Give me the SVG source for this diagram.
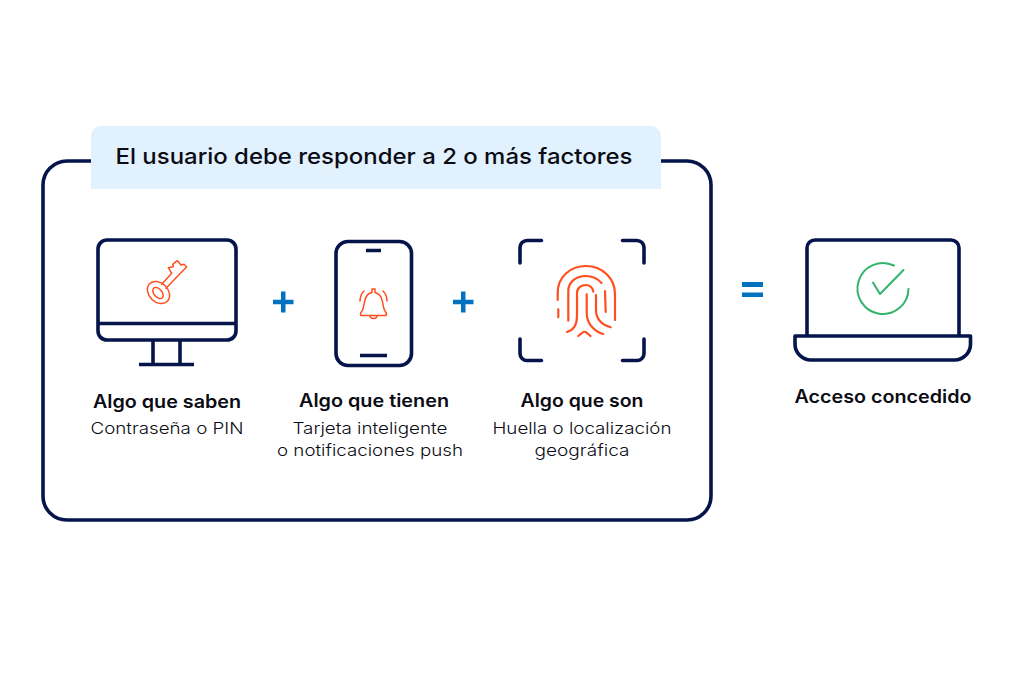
<svg xmlns="http://www.w3.org/2000/svg" width="1024" height="681" viewBox="0 0 1024 681">
<style>
text{font-family:"Inter","Noto Sans",sans-serif;fill:#0b0b14;text-anchor:middle}
.t{font-size:22px;font-weight:500}
.h{font-size:18px;font-weight:600}
.s{font-size:16.5px;font-weight:300}
.n{fill:none;stroke:#05144a;stroke-width:3.6;stroke-linejoin:round}
.o{fill:none;stroke:#ff4f1f;stroke-width:1.5;stroke-linecap:round;stroke-linejoin:round}
.f{fill:none;stroke:#ff4f1f;stroke-width:2.2;stroke-linecap:round;stroke-linejoin:round}
.b{fill:#0072bf}
</style>
<rect width="1024" height="681" fill="#fff"/>
<g id="frame">
<rect class="n" x="43" y="161" width="668" height="359" rx="24"/>
<path d="M91 189V136a10 10 0 0 1 10-10H651a10 10 0 0 1 10 10V189Z" fill="#e1f2fe"/>
<text class="t" x="374" y="164" textLength="517" lengthAdjust="spacingAndGlyphs">El usuario debe responder a 2 o más factores</text>
</g>
<g id="saben">
<rect class="n" x="98" y="240" width="138" height="100" rx="9"/>
<path class="n" d="M98 323.500H236M153 341V364.500M180 341V364.500M139 364.500H194"/>
<ellipse class="o" cx="158.500" cy="292.500" rx="12.500" ry="9.500" transform="rotate(45 158.500 292.500)"/>
<ellipse class="o" cx="158" cy="293" rx="6.500" ry="4" transform="rotate(50 158 293)"/>
<path class="o" d="M161.700 284.300L171.700 273.300L168.300 267.700L173.300 266.700L172.700 264.300L177.300 260.700L181 265L184 264.300L186.700 266.700L166 288.300"/>
<text class="h" x="167" y="408" textLength="148" lengthAdjust="spacingAndGlyphs">Algo que saben</text>
<text class="s" x="167" y="434" textLength="153" lengthAdjust="spacingAndGlyphs">Contraseña o PIN</text>
</g>
<g id="tienen">
<rect class="n" x="336" y="241.500" width="75.500" height="124" rx="12"/>
<path class="n" d="M366 250.500H381M360 355.500H387"/>
<path class="o" d="M361 315.500C360 314 361 312 362 311C364 308 364 303 365 300C366 296 369 293 372 292.500V289H375V292.500C379 293.500 381 296 382 300C383 303 383 308 385 311C386 312 387 314 386 315.500Z"/>
<path class="o" d="M370 315.500a3.500 3 0 0 0 7 0M360 301C360 297 362 293 364 291M387 301C387 297 385 293 383 291"/>
<text class="h" x="374" y="407" textLength="150" lengthAdjust="spacingAndGlyphs">Algo que tienen</text>
<text class="s" x="370" y="434" textLength="155" lengthAdjust="spacingAndGlyphs">Tarjeta inteligente</text>
<text class="s" x="370" y="456" textLength="186" lengthAdjust="spacingAndGlyphs">o notificaciones push</text>
</g>
<g id="son">
<path class="n" stroke-linecap="round" d="M541.500 240.500H527a7 7 0 0 0-7 7V263M622.500 240.500H637a7 7 0 0 1 7 7V263M520 339V353.500a7 7 0 0 0 7 7H541.500M644 339V353.500a7 7 0 0 1-7 7H622.500"/>
<path class="f" d="M557.700 300V293C557.700 277 570 266 586 266C602 266 615 278 615 294V320M558.300 309.300V317.300M568.300 320.700V291C568.300 282 576 276 586 276C593 276 598 279 601.500 283M605 291L605.700 312M567 332C574 330 577 325 577 316V293C577 288 581 285 586 285C590 285 593 288 593.300 291.700M586.700 294.300V313C586.700 325 596 332 603.300 334M596 295V310C596 320 603 325 610.700 327.300M578.300 336L582 333C584 331.300 585 331.300 587 333L590.500 336"/>
<text class="h" x="582" y="407" textLength="123" lengthAdjust="spacingAndGlyphs">Algo que son</text>
<text class="s" x="582" y="434" textLength="179" lengthAdjust="spacingAndGlyphs">Huella o localización</text>
<text class="s" x="582" y="456" textLength="95" lengthAdjust="spacingAndGlyphs">geográfica</text>
</g>
<g id="acceso">
<path class="n" d="M807 335V248a8 8 0 0 1 8-8H951a8 8 0 0 1 8 8V335"/>
<path class="n" d="M795 336H970.500V344a16 16 0 0 1-16 16H811a16 16 0 0 1-16-16Z"/>
<path d="M908.500 289A25.500 25.500 0 1 1 894 265.500" fill="none" stroke="#33b36b" stroke-width="2" stroke-linecap="round"/>
<path d="M873 282.500L880 294L903.500 270" fill="none" stroke="#33b36b" stroke-width="2" stroke-linecap="round" stroke-linejoin="round"/>
<text class="h" x="883" y="403" textLength="177" lengthAdjust="spacingAndGlyphs">Acceso concedido</text>
</g>
<g id="operators">
<path class="b" d="M281 291.500H285.500V299.800H293.500V304.200H285.500V312.500H281V304.200H273V299.800H281Z"/>
<path class="b" d="M461 291.500H465.500V299.800H473.500V304.200H465.500V312.500H461V304.200H453V299.800H461Z"/>
<path class="b" d="M742 282H763V287H742ZM742 292.500H763V297H742Z"/>
</g>
<g id="connectors"/>
</svg>
